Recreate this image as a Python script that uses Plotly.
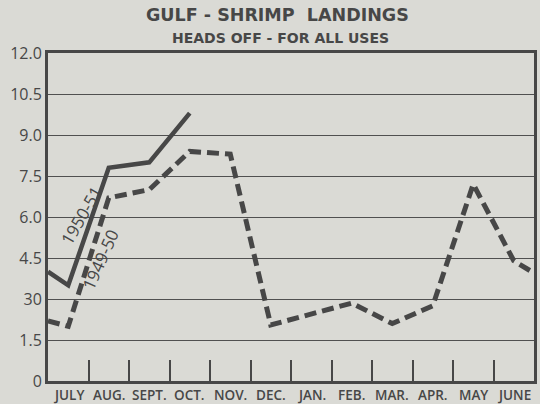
import plotly.graph_objects as go

# ---- data ----
months = ["JULY", "AUG.", "SEPT.", "OCT.", "NOV.", "DEC.", "JAN.", "FEB.", "MAR.", "APR.", "MAY", "JUNE"]
# 1950-51 season (solid) – value carried in from previous June at the left edge
s1950_edge_start = 4.0
s1950 = [3.5, 7.8, 8.0, 9.8]
# 1949-50 season (dashed)
s1949_edge_start = 2.2
s1949 = [2.0, 6.7, 7.0, 8.4, 8.3, 2.05, 2.45, 2.85, 2.1, 2.75, 7.2, 4.4]
s1949_edge_end = 3.95

y_ticks = [0, 1.5, 3.0, 4.5, 6.0, 7.5, 9.0, 10.5, 12.0]
y_tick_text = ["0", "1.5", "30", "4.5", "6.0", "7.5", "9.0", "10.5", "12.0"]

ink = "#474747"
paper = "#dadad5"
n = len(months)
edge_lo, edge_hi = -0.5, n - 0.5

fig = go.Figure()

fig.add_trace(go.Scatter(
    x=[edge_lo] + list(range(len(s1949))) + [edge_hi],
    y=[s1949_edge_start] + s1949 + [s1949_edge_end],
    mode="lines", line=dict(color=ink, width=5, dash="12px,6px"),
    showlegend=False, hoverinfo="skip"))

fig.add_trace(go.Scatter(
    x=[edge_lo] + list(range(len(s1950))),
    y=[s1950_edge_start] + s1950,
    mode="lines", line=dict(color=ink, width=4.5),
    showlegend=False, hoverinfo="skip"))

# invisible trace for the boundary tick axis
fig.add_trace(go.Scatter(x=[edge_lo, edge_hi], y=[None, None], xaxis="x2",
                         mode="lines", showlegend=False, hoverinfo="skip"))

month_annotations = [
    dict(text=m, x=i, y=0, xref="x", yref="y", showarrow=False, yanchor="top",
         yshift=-3, font=dict(size=13.5, color=ink, weight=600))
    for i, m in enumerate(months)
]

title_font = "DejaVu Sans, Open Sans, sans-serif"

fig.update_layout(
    width=540, height=404,
    margin=dict(l=48, r=3, t=53, b=23),
    paper_bgcolor=paper, plot_bgcolor=paper,
    font=dict(family="Open Sans, DejaVu Sans, sans-serif", color=ink),
    xaxis=dict(range=[edge_lo, edge_hi], showticklabels=False,
               showgrid=False, zeroline=False, ticks="",
               showline=True, linecolor=ink, linewidth=3, mirror=True),
    xaxis2=dict(range=[edge_lo, edge_hi], overlaying="x", anchor="y", side="bottom",
                tickvals=[i + 0.5 for i in range(n - 1)], showticklabels=False,
                ticks="inside", ticklen=21, tickwidth=1.5, tickcolor=ink,
                showgrid=False, zeroline=False, showline=False),
    yaxis=dict(range=[0, 12], tickvals=y_ticks, ticktext=y_tick_text,
               showgrid=True, gridcolor="#505050", gridwidth=1.4, zeroline=False,
               tickfont=dict(size=16, color=ink), ticks="", ticklen=2,
               showline=True, linecolor=ink, linewidth=3, mirror=True),
    annotations=[
        dict(text="GULF - SHRIMP  LANDINGS", xref="paper", yref="paper", x=0.473, y=1.115,
             showarrow=False, font=dict(family=title_font, size=17.5, color=ink, weight="bold"),
             yanchor="middle"),
        dict(text="HEADS OFF - FOR ALL USES", xref="paper", yref="paper", x=0.478, y=1.047,
             showarrow=False, font=dict(family=title_font, size=14, color=ink, weight="bold"),
             yanchor="middle"),
        dict(text="1950-51", x=0.33, y=6.04, xref="x", yref="y", showarrow=False,
             textangle=-60, font=dict(size=17, color=ink)),
        dict(text="1949-50", x=0.80, y=4.43, xref="x", yref="y", showarrow=False,
             textangle=-66, font=dict(size=17, color=ink)),
    ] + month_annotations,
)

fig.write_html(
    "out.html",
    config={"displayModeBar": False},
    post_script=(
        "document.body.style.margin='0';"
        "document.body.style.overflow='hidden';"
        "document.body.style.background='%s';" % paper
    ),
)
